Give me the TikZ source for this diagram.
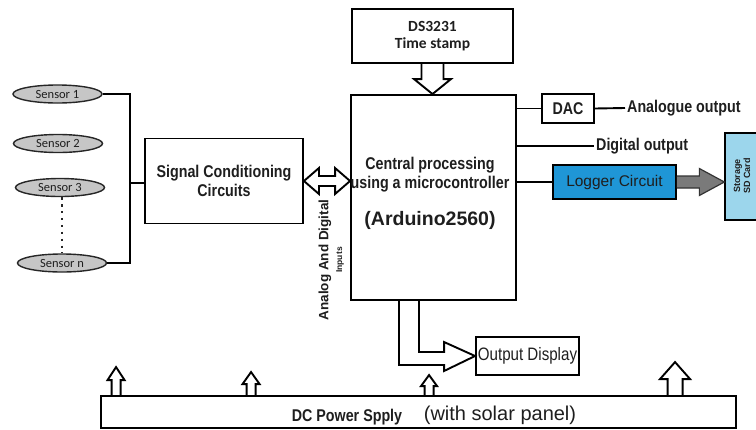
\documentclass[tikz,border=0pt]{standalone}
\usepackage{fontspec}
\setmainfont{Liberation Sans}
\newfontfamily\carl{Carlito}
\newfontfamily\narrowsans[FakeStretch=0.84]{Liberation Sans}
\usetikzlibrary{calc,shapes.geometric}
\definecolor{txt}{HTML}{1E1E1E}
\definecolor{loggerblue}{HTML}{1F96D6}
\definecolor{sdblue}{HTML}{9CD6EC}
\definecolor{sensorgray}{HTML}{C6C6C6}
\definecolor{arrowgray}{HTML}{7A7A7A}
\begin{document}
\begin{tikzpicture}[x=1pt,y=-1pt,
 box/.style={draw=black, line width=1.9pt, inner sep=0pt, align=center, text=txt},
 wire/.style={draw=black, line width=1.9pt, line join=miter},
 hollow/.style={draw=black, line width=1.9pt, line join=miter},
 garrow/.style={draw=black!80, line width=1.2pt, fill=arrowgray, line join=miter},
 sensor/.style={ellipse, draw=black!85, line width=1.4pt, fill=sensorgray, minimum width=89pt, minimum height=18pt, inner sep=0pt, font=\carl\fontsize{12.5}{14}\selectfont, text=txt},
 lbl/.style={inner sep=0pt, text=txt},
 bnar/.style={font=\narrowsans\bfseries\fontsize{17}{19}\selectfont}
]
\useasboundingbox (0,0) rectangle (756,429);
\clip (0,0) rectangle (756,429);

% sensors
\node[sensor] (s1) at (57.5,94) {Sensor 1};
\node[sensor] (s2) at (58,143.5) {Sensor 2};
\node[sensor] (s3) at (60,187.5) {Sensor 3};
\node[sensor] (sn) at (62,263) {Sensor n};

% boxes
\node[box, bnar, minimum width=158pt, minimum height=85pt] (sig) at (224,181) {Signal Conditioning\\Circuits};
\node[box, minimum width=165pt, minimum height=205pt] (cpu) at (433.5,197.5) {};
\node[lbl, bnar, align=center] (cpt1) at (430,175) {Central processing\\using a microcontroller};
\node[lbl, font=\bfseries\fontsize{19.5}{22}\selectfont] (cpt2) at (430,220) {(Arduino2560)};
\node[box, font=\carl\bfseries\fontsize{15.5}{16.5}\selectfont, minimum width=161pt, minimum height=54pt] (ds) at (432.5,36) {DS3231\\Time stamp};
\node[box, bnar, minimum width=52pt, minimum height=29pt] (dac) at (568,108.5) {DAC};
\node[lbl, bnar, anchor=west, inner sep=2pt] (ao) at (625,108) {Analogue output};
\node[lbl, bnar, anchor=west, inner sep=2pt] (do) at (594,146) {Digital output};
\node[box, fill=loggerblue, line width=1.5pt, font=\fontsize{15.5}{17}\selectfont, minimum width=123pt, minimum height=34pt] (log) at (614.5,182) {Logger Circuit};
\node[box, fill=sdblue, line width=1.3pt, minimum width=40pt, minimum height=87pt] (sd) at (745,176.5) {};
\node[lbl, rotate=90, align=center, font=\bfseries\fontsize{9}{10}\selectfont] (sdt) at (742,176) {Storage\\SD Card};
\node[box, font=\narrowsans\fontsize{18}{20}\selectfont, minimum width=103pt, minimum height=38pt] (out) at (527.5,356) {Output Display};
\node[box, minimum width=635pt, minimum height=32pt] (dc) at (418.5,412) {};
\node[lbl, bnar, anchor=base] (dct1) at (347,421) {DC Power Spply};
\node[lbl, font=\fontsize{20}{22}\selectfont, anchor=base] (dct2) at (500,420) {(with solar panel)};
\node[lbl, rotate=90, font=\bfseries\fontsize{13.5}{15}\selectfont] (adi1) at (325,260) {Analog And Digital};
\node[lbl, rotate=90, font=\bfseries\fontsize{8.5}{10}\selectfont] (adi2) at (340,260) {Inputs};

% sensor bus
\coordinate (bus) at (130,183);
\draw[wire] (s1.east) -- (s1.east -| bus) -- (sn.east -| bus) -- (sn.east);
\draw[wire] (bus) -- (bus -| sig.west);
\draw[line width=2.4pt, dash pattern=on 2.4pt off 4.5pt, black!85] (s3.south -| sn.north) -- (sn.north);

% double arrow signal <-> cpu
\coordinate (dl) at (sig.east);
\coordinate (dr) at (sig.east -| cpu.west);
\draw[hollow] (dl) -- ++(15,-13) -- ++(0,8) -- ($(dr)+(-15,-5)$) -- ++(0,-8) -- (dr) -- ++(-15,13) -- ++(0,-8) -- ($(dl)+(15,5)$) -- ++(0,8) -- cycle;

% down arrow DS3231 -> cpu
\coordinate (dt) at (ds.south |- cpu.north);
\draw[hollow] ($(ds.south)+(-11,0)$) -- ($(dt)+(-11,-15)$) -- ($(dt)+(-18.5,-15)$) -- (dt) -- ($(dt)+(18.5,-15)$) -- ($(dt)+(11,-15)$) -- ($(ds.south)+(11,0)$);

% right side outputs
\draw[wire] (dac.west -| cpu.east) -- (dac.west);
\draw[wire] (dac.east) -- (ao.west);
\draw[wire] (do.west -| cpu.east) -- (do.west);
\draw[wire] (log.west -| cpu.east) -- (log.west);

% gray arrow logger -> storage
\coordinate (gt) at (sd.west |- log.east);
\draw[garrow] ($(log.east)+(0,-6)$) -- ($(gt)+(-25,-6)$) -- ($(gt)+(-25,-13.5)$) -- (gt) -- ($(gt)+(-25,13.5)$) -- ($(gt)+(-25,6)$) -- ($(log.east)+(0,6)$);

% bent hollow arrow cpu -> output display
\coordinate (o1) at ($(cpu.south)+(-34.5,0)$);
\coordinate (o2) at ($(cpu.south)+(-14.5,0)$);
\coordinate (ob) at ($(out.west)+(-31,0)$);
\draw[hollow] (o1) -- ($(o1 |- ob)+(0,9)$) -- ($(ob)+(0,9)$) -- ($(ob)+(0,15)$) -- (out.west) -- ($(ob)+(0,-14)$) -- ($(ob)+(0,-4)$) -- ($(o2 |- ob)+(0,-4)$) -- (o2);

% up arrows from DC supply
\foreach \dx/\h/\sw/\hw/\hh [count=\i] in {16/28/4.5/8.5/13, 151/23/4.5/8.5/12, 329/20/4.5/8/11, 575/33/7.5/15/17} {
  \coordinate (ub\i) at ($(dc.north west)+(\dx,0)$);
  \draw[hollow] ($(ub\i)+({-\sw},0)$) -- ($(ub\i)+({-\sw},{-(\h-\hh)})$) -- ($(ub\i)+({-\hw},{-(\h-\hh)})$) -- ($(ub\i)+(0,{-\h})$) -- ($(ub\i)+({\hw},{-(\h-\hh)})$) -- ($(ub\i)+({\sw},{-(\h-\hh)})$) -- ($(ub\i)+({\sw},0)$);
}
\end{tikzpicture}
\end{document}
